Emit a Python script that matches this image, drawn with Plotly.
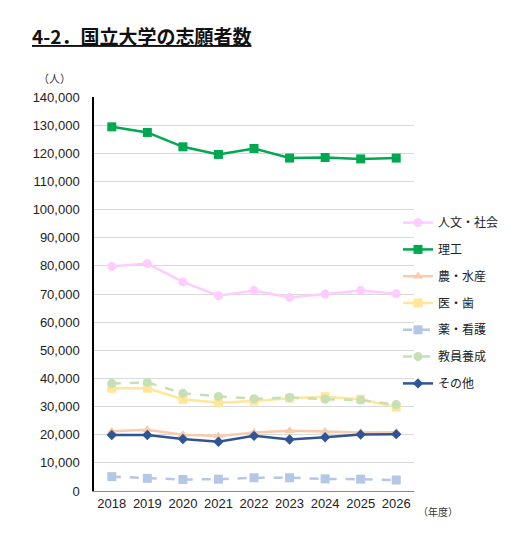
import plotly.graph_objects as go

years = ["2018", "2019", "2020", "2021", "2022", "2023", "2024", "2025", "2026"]
jinbun = [79800, 80800, 74300, 69400, 71200, 68800, 70000, 71200, 70100]
riko = [129400, 127400, 122300, 119600, 121700, 118300, 118500, 118000, 118300]
nosui = [21200, 21800, 20000, 19500, 20800, 21400, 21100, 20800, 20900]
ishi = [36500, 36500, 32600, 31400, 32000, 33000, 33500, 32600, 29800]
yaku = [5100, 4500, 4100, 4200, 4700, 4700, 4300, 4200, 3900]
kyoin = [38200, 38600, 34700, 33600, 32800, 33200, 32600, 32300, 30700]
sonota = [19900, 19900, 18500, 17500, 19600, 18300, 19100, 20100, 20200]
yticks = list(range(0, 140001, 10000))

series = [
    ("人文・社会", jinbun, "#FFCCFF", "circle", "solid", 9),
    ("理工", riko, "#00A850", "square", "solid", 9),
    ("農・水産", nosui, "#F8CBAD", "triangle-up", "solid", 9),
    ("医・歯", ishi, "#FFE699", "square", "solid", 9),
    ("薬・看護", yaku, "#B4C7E7", "square", "dash", 9),
    ("教員養成", kyoin, "#C5E0B4", "circle", "dash", 9),
    ("その他", sonota, "#2F5597", "diamond", "solid", 8),
]

fig = go.Figure()
for i, (name, vals, color, sym, dash, ms) in enumerate(series):
    fig.add_trace(go.Scatter(
        x=years, y=vals, name=name, mode="lines+markers",
        line=dict(color=color, width=2.5, dash=dash),
        marker=dict(symbol=sym, size=ms, color=color),
        legendgroup=str(i),
    ))

PW, PH, L, T = 320, 394, 94, 97

fig.update_layout(
    width=526, height=538,
    margin=dict(l=L, r=112, t=T, b=47),
    plot_bgcolor="white", paper_bgcolor="white",
    font=dict(family="Liberation Sans, Arial, sans-serif", size=13, color="#333"),
    showlegend=True,
    legend=dict(
        x=0.95, y=0.718, xanchor="left", yanchor="top",
        font=dict(family="Noto Sans CJK JP", size=12, color="#222"),
        tracegroupgap=7.8, bgcolor="rgba(0,0,0,0)",
    ),
    xaxis=dict(
        type="category", range=[-0.5, 8.5],
        showline=True, linecolor="#888", linewidth=1,
        showgrid=False, ticks="", tickfont=dict(size=13, color="#222"),
    ),
    yaxis=dict(
        range=[0, 140000], tickvals=yticks,
        ticktext=[f"{v:,}" for v in yticks],
        showline=True, linecolor="#000", linewidth=1.5,
        showgrid=True, gridcolor="#D9D9D9", gridwidth=1,
        zeroline=False, ticks="", ticklabelstandoff=10,
        tickfont=dict(size=13, color="#222"),
    ),
    annotations=[
        dict(text="<b><u>4-2．国立大学の志願者数</u></b>", xref="paper", yref="paper",
             x=(30 - L) / PW, y=1 + (T - 35) / PH, xanchor="left", yanchor="middle",
             showarrow=False, font=dict(family="Noto Sans CJK JP", size=19, color="#111")),
        dict(text="（人）", xref="paper", yref="paper",
             x=(54 - L) / PW, y=1 + (T - 78) / PH, xanchor="center", yanchor="middle",
             showarrow=False, font=dict(family="Noto Sans CJK JP", size=11, color="#333")),
        dict(text="（年度）", xref="paper", yref="paper",
             x=(438 - L) / PW, y=-(511 - 491) / PH, xanchor="center", yanchor="middle",
             showarrow=False, font=dict(family="Noto Sans CJK JP", size=10, color="#333")),
    ],
)

fig.write_html("out.html")
